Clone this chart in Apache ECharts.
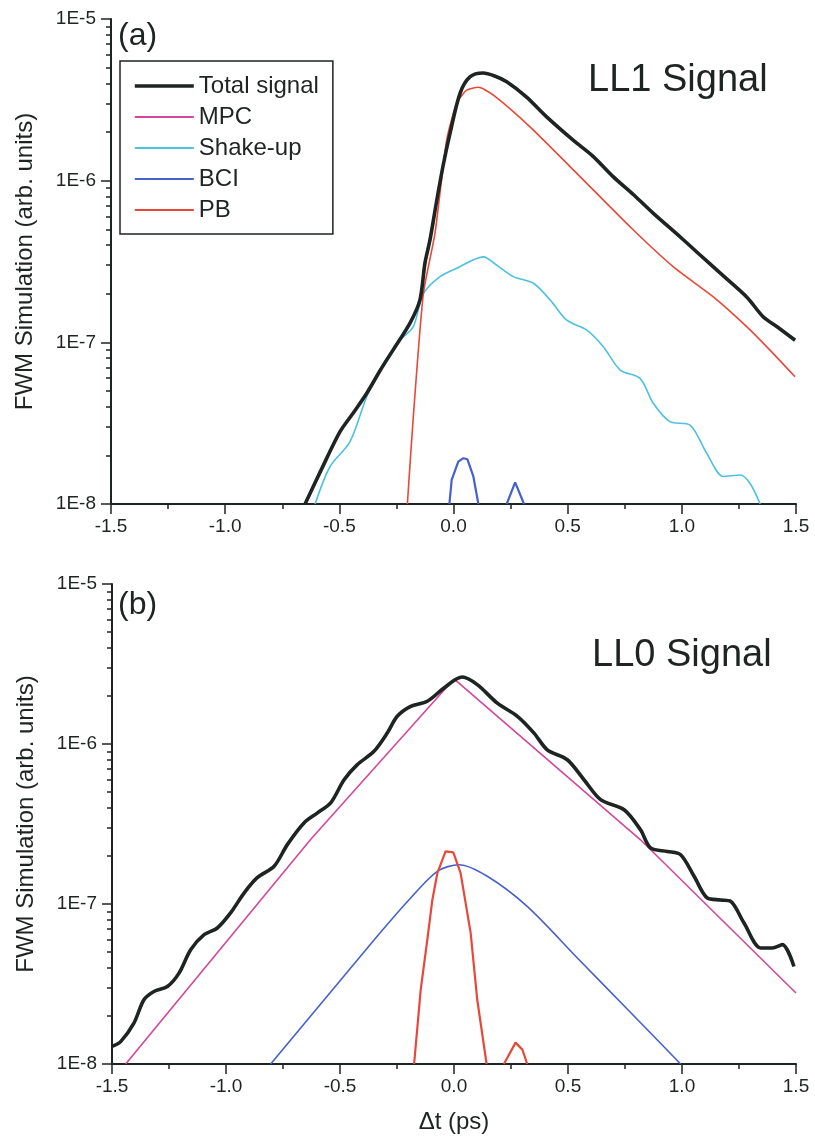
<!DOCTYPE html>
<html>
<head>
<meta charset="utf-8">
<script src="https://cdn.jsdelivr.net/npm/echarts@6/dist/echarts.min.js"></script>
<style>
html,body{margin:0;padding:0;background:#fff;}
#chart{width:815px;height:1142px;}
</style>
</head>
<body>
<div id="chart"></div>
<script>
// ---------- data (Δt in ps, signal in arb. units) ----------
const seriesNames = ['Total signal', 'MPC', 'Shake-up', 'BCI', 'PB'];
const xTicks = [-1.5, -1.0, -0.5, 0.0, 0.5, 1.0, 1.5];
const yMajorTicks = [1e-8, 1e-7, 1e-6, 1e-5];
const yMinorTicks = [2e-8,3e-8,4e-8,5e-8,6e-8,7e-8,8e-8,9e-8,2e-7,3e-7,4e-7,5e-7,6e-7,7e-7,8e-7,9e-7,2e-6,3e-6,4e-6,5e-6,6e-6,7e-6,8e-6,9e-6];

// Panel (a): LL1 signal
const a_total_t = [-0.65,-0.58,-0.497,-0.44,-0.38,-0.32,-0.265,-0.19,-0.147,-0.125,-0.103,-0.073,-0.045,-0.015,0.029,0.072,0.129,0.18,0.233,0.32,0.408,0.524,0.61,0.699,0.79,0.874,0.992,1.08,1.167,1.284,1.356,1.42,1.496];
const a_total_v = [1e-8,1.62e-8,2.8e-8,3.64e-8,4.84e-8,6.74e-8,8.95e-8,1.32e-7,1.83e-7,3.09e-7,4.3e-7,7.59e-7,1.25e-6,1.97e-6,3.48e-6,4.38e-6,4.63e-6,4.44e-6,4.09e-6,3.29e-6,2.48e-6,1.78e-6,1.42e-6,1.06e-6,8.15e-7,6.3e-7,4.5e-7,3.47e-7,2.69e-7,1.91e-7,1.44e-7,1.24e-7,1.03e-7];
const a_pb_t = [-0.202,-0.176,-0.132,-0.081,-0.03,0.014,0.058,0.109,0.175,0.335,0.554,0.773,0.963,1.138,1.284,1.386,1.496];
const a_pb_v = [1e-8,3.47e-8,2.0e-7,4.74e-7,1.78e-6,3.02e-6,3.63e-6,3.78e-6,3.38e-6,2.15e-6,1.06e-6,5.19e-7,2.93e-7,1.91e-7,1.25e-7,8.95e-8,6.12e-8];
const a_shake_t = [-0.606,-0.541,-0.453,-0.38,-0.307,-0.234,-0.176,-0.132,-0.059,0.014,0.131,0.189,0.262,0.35,0.423,0.496,0.584,0.656,0.73,0.817,0.875,0.948,1.036,1.109,1.182,1.255,1.299,1.343];
const a_shake_v = [1e-8,1.7e-8,2.43e-8,4.61e-8,7.41e-8,1.03e-7,1.25e-7,2.0e-7,2.55e-7,2.87e-7,3.38e-7,3.0e-7,2.55e-7,2.32e-7,1.83e-7,1.37e-7,1.19e-7,9.4e-8,6.74e-8,5.98e-8,4.2e-8,3.23e-8,3.08e-8,2.06e-8,1.48e-8,1.51e-8,1.34e-8,1e-8];
const a_bci_t = [-0.018,-0.008,0.021,0.043,0.061,0.087,0.109,0.17,0.233,0.27,0.309];
const a_bci_v = [1e-8,1.41e-8,1.83e-8,1.92e-8,1.89e-8,1.48e-8,1e-8,null,1e-8,1.36e-8,1e-8];

// Panel (b): LL0 signal
const b_total_t = [-1.499,-1.462,-1.404,-1.36,-1.316,-1.257,-1.206,-1.155,-1.096,-1.038,-0.98,-0.921,-0.863,-0.789,-0.731,-0.658,-0.6,-0.541,-0.482,-0.424,-0.351,-0.293,-0.249,-0.19,-0.117,-0.044,0.036,0.102,0.19,0.278,0.351,0.409,0.497,0.57,0.643,0.746,0.818,0.862,0.936,0.994,1.053,1.111,1.169,1.213,1.272,1.345,1.396,1.44,1.491];
const b_total_v = [1.29e-8,1.38e-8,1.8e-8,2.52e-8,2.84e-8,3.05e-8,3.7e-8,5.18e-8,6.43e-8,7.08e-8,8.79e-8,1.17e-7,1.46e-7,1.72e-7,2.35e-7,3.21e-7,3.7e-7,4.28e-7,5.98e-7,7.43e-7,9.0e-7,1.17e-6,1.49e-6,1.72e-6,1.85e-6,2.24e-6,2.62e-6,2.35e-6,1.8e-6,1.49e-6,1.17e-6,9.2e-7,7.97e-7,5.98e-7,4.49e-7,3.88e-7,2.91e-7,2.24e-7,2.13e-7,2.03e-7,1.49e-7,1.09e-7,1.06e-7,1.04e-7,7.6e-8,5.31e-8,5.31e-8,5.57e-8,4.07e-8];
const b_mpc_t = [-1.44,-0.629,0.0,0.818,1.5];
const b_mpc_v = [1e-8,2.53e-7,2.55e-6,2.52e-7,2.78e-8];
const b_bci_t = [-0.804,-0.336,-0.19,-0.073,0.022,0.146,0.321,0.541,0.75,0.994];
const b_bci_v = [1e-8,6.3e-8,1.09e-7,1.6e-7,1.76e-7,1.49e-7,9.66e-8,4.6e-8,2.28e-8,1e-8];
const b_pb_t = [-0.175,-0.146,-0.117,-0.095,-0.073,-0.037,-0.003,0.029,0.073,0.102,0.143,0.18,0.219,0.27,0.3,0.321];
const b_pb_v = [1e-8,2.91e-8,5.98e-8,1.06e-7,1.56e-7,2.13e-7,2.1e-7,1.56e-7,6.6e-8,2.52e-8,1e-8,null,1e-8,1.36e-8,1.23e-8,1e-8];

// ---------- chart ----------
const FONT = "'Liberation Sans', Arial, sans-serif";
const INK = '#1e2421';
const colors = {
  'Total signal': '#1e2421',
  'MPC': '#d4479c',
  'Shake-up': '#4cc2de',
  'BCI': '#4660cc',
  'PB': '#e8483a'
};
function pairs(t, v) { return t.map((x, i) => [x, v[i] == null ? '-' : v[i]]); }
function line(name, xi, yi, t, v, opts) {
  const isTotal = name === 'Total signal';
  return Object.assign({
    name, type: 'line', xAxisIndex: xi, yAxisIndex: yi,
    data: pairs(t, v), symbol: 'none', showSymbol: false,
    connectNulls: false, smooth: false, animation: false,
    lineStyle: { color: colors[name], width: isTotal ? 3.6 : 1.6 },
    itemStyle: { color: colors[name] },
    z: isTotal ? 5 : 3
  }, opts || {});
}

function xAxis(gi, withName) {
  return {
    type: 'value', gridIndex: gi, min: -1.5, max: 1.5, interval: 0.5,
    name: withName ? 'Δt (ps)' : '', nameLocation: 'middle', nameGap: 46,
    nameTextStyle: { fontFamily: FONT, fontSize: 24, color: INK },
    axisLine: { show: true, onZero: false, lineStyle: { color: INK, width: 2 } },
    axisTick: { show: true, inside: false, length: 10, lineStyle: { color: INK, width: 1.5 } },
    minorTick: { show: true, splitNumber: 2, length: 5, lineStyle: { color: INK, width: 1.5 } },
    axisLabel: { fontFamily: FONT, fontSize: 19, color: INK, margin: 13,
      formatter: v => v.toFixed(1), showMinLabel: true, showMaxLabel: true },
    splitLine: { show: false }, minorSplitLine: { show: false }
  };
}
function yMajor(gi) {
  return {
    type: 'log', logBase: 10, gridIndex: gi, min: 1e-8, max: 1e-5, position: 'left',
    name: 'FWM Simulation (arb. units)', nameLocation: 'middle', nameGap: 74, nameRotate: 90,
    nameTextStyle: { fontFamily: FONT, fontSize: 24, color: INK },
    axisLine: { show: true, onZero: false, lineStyle: { color: INK, width: 2 } },
    axisTick: { show: true, inside: false, length: 10, customValues: yMajorTicks, lineStyle: { color: INK, width: 1.5 } },
    axisLabel: { fontFamily: FONT, fontSize: 19, color: INK, margin: 15, customValues: yMajorTicks,
      formatter: v => '1E' + Math.round(Math.log10(v)) },
    splitLine: { show: false }
  };
}
function yMinor(gi) {
  return {
    type: 'log', logBase: 10, gridIndex: gi, min: 1e-8, max: 1e-5, position: 'left',
    axisLine: { show: false, onZero: false },
    axisTick: { show: true, inside: false, length: 5, customValues: yMinorTicks, lineStyle: { color: INK, width: 1.5 } },
    axisLabel: { show: false },
    splitLine: { show: false }
  };
}

const option = {
  backgroundColor: '#fff',
  animation: false,
  grid: [
    { left: 111, right: 19, top: 19, height: 485, containLabel: false },
    { left: 112, right: 19, top: 584, height: 480, containLabel: false }
  ],
  xAxis: [xAxis(0, false), xAxis(1, true)],
  yAxis: [yMajor(0), yMinor(0), yMajor(1), yMinor(1)],
  legend: {
    data: seriesNames.map(n => n === 'Total signal'
      ? { name: n, lineStyle: { width: 3.6 } }
      : { name: n, lineStyle: { width: 1.8 } }),
    orient: 'vertical', left: 120, top: 61,
    selectedMode: false,
    itemWidth: 59, itemHeight: 14, itemGap: 7,
    padding: [13, 14, 12, 13],
    borderColor: INK, borderWidth: 1.5,
    itemStyle: { color: 'rgba(0,0,0,0)', borderWidth: 0, opacity: 0 },
    textStyle: { fontFamily: FONT, fontSize: 24, color: INK }
  },
  graphic: [
    { type: 'text', style: { x: 118, y: 36, text: '(a)', font: '32px ' + FONT, fill: INK, verticalAlign: 'middle' } },
    { type: 'text', style: { x: 588, y: 81, text: 'LL1 Signal', font: '38px ' + FONT, fill: INK, verticalAlign: 'middle' } },
    { type: 'text', style: { x: 118, y: 605, text: '(b)', font: '32px ' + FONT, fill: INK, verticalAlign: 'middle' } },
    { type: 'text', style: { x: 592, y: 656, text: 'LL0 Signal', font: '38px ' + FONT, fill: INK, verticalAlign: 'middle' } }
  ],
  series: [
    line('Total signal', 0, 0, a_total_t, a_total_v, { smooth: 0.3 }),
    line('MPC', 0, 0, [], []),
    line('Shake-up', 0, 0, a_shake_t, a_shake_v, { smooth: 0.3 }),
    line('BCI', 0, 0, a_bci_t, a_bci_v, { lineStyle: { color: colors['BCI'], width: 2.2 } }),
    line('PB', 0, 0, a_pb_t, a_pb_v, { smooth: 0.2 }),
    line('Total signal', 1, 2, b_total_t, b_total_v, { smooth: 0.3 }),
    line('MPC', 1, 2, b_mpc_t, b_mpc_v),
    line('BCI', 1, 2, b_bci_t, b_bci_v, { smooth: 0.3 }),
    line('PB', 1, 2, b_pb_t, b_pb_v, { lineStyle: { color: colors['PB'], width: 2.2 } })
  ]
};

const chart = echarts.init(document.getElementById('chart'), null, { renderer: 'canvas' });
chart.setOption(option);
</script>
</body>
</html>
